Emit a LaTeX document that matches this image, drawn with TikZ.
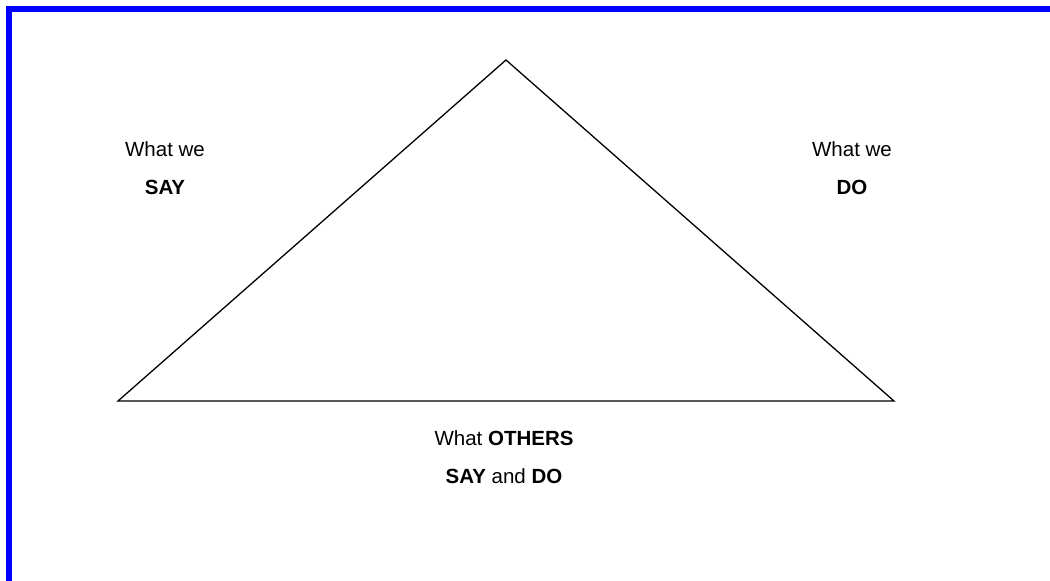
\documentclass[tikz,border=0pt]{standalone}
\usepackage{fontspec}
\setmainfont{Liberation Sans}
\begin{document}
\begin{tikzpicture}[x=1pt,y=-1pt,
  lbl/.style={font=\fontsize{20.5}{38}\selectfont, align=center, inner sep=0pt},
  edge/.style={draw=black, line width=1.3pt, line join=miter}]
\useasboundingbox (0,0) rectangle (1050,581);
\fill[blue] (6,6) rectangle (1050,12);
\fill[blue] (6,6) rectangle (12,581);
\coordinate (apex) at (506,60);
\coordinate (bl) at (118,401);
\coordinate (br) at (894,401);
\draw[edge] (apex) -- (br) -- (bl) -- cycle;
\node[lbl] (say) at (165,168) {What we\\\textbf{SAY}};
\node[lbl] (do) at (852,168) {What we\\\textbf{DO}};
\node[lbl] (others) at (504,457) {What \textbf{OTHERS}\\\textbf{SAY} and \textbf{DO}};
\end{tikzpicture}
\end{document}
